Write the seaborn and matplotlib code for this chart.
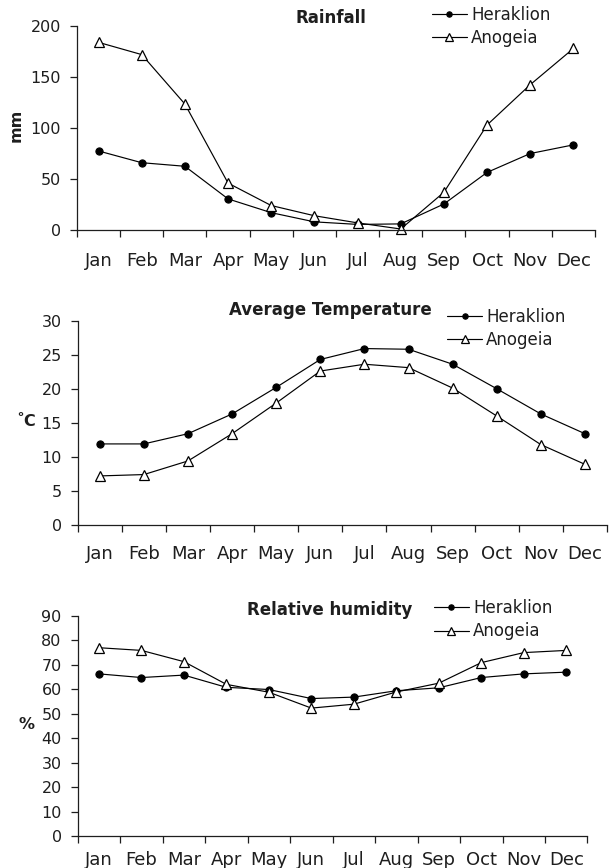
import numpy as np
import pandas as pd
import matplotlib
matplotlib.use("Agg")
import matplotlib.pyplot as plt
import seaborn as sns

months = ["Jan", "Feb", "Mar", "Apr", "May", "Jun", "Jul", "Aug", "Sep", "Oct", "Nov", "Dec"]
stations = ["Heraklion", "Anogeia"]

rain_heraklion = [77.5, 66, 62.5, 30.5, 17, 8, 5.5, 6, 25.5, 56.5, 75, 83.5]
rain_anogeia = [184, 172, 123.5, 46, 24, 14, 7, 1, 37, 103, 142.5, 178]

temp_heraklion = [11.9, 11.9, 13.4, 16.3, 20.2, 24.3, 25.9, 25.8, 23.6, 20.0, 16.3, 13.4]
temp_anogeia = [7.2, 7.4, 9.4, 13.4, 17.9, 22.6, 23.6, 23.1, 20.1, 16.0, 11.8, 8.9]

hum_heraklion = [66.3, 64.8, 65.8, 60.8, 59.9, 56.2, 56.8, 59.4, 60.6, 64.8, 66.3, 67.0]
hum_anogeia = [77.0, 75.9, 71.3, 62.0, 58.8, 52.3, 53.9, 58.9, 62.5, 70.9, 75.0, 75.9]

sns.set_theme(style="ticks")
plt.rcParams["font.family"] = ["DejaVu Sans"]
plt.rcParams["axes.linewidth"] = 0.9

INK = "#1e1e1e"


def frame(h, a):
    rows = []
    for m, v in zip(months, h):
        rows.append({"month": m, "value": v, "station": stations[0]})
    for m, v in zip(months, a):
        rows.append({"month": m, "value": v, "station": stations[1]})
    return pd.DataFrame(rows)


fig = plt.figure(figsize=(6.10, 8.68), dpi=100)

panels = [
    dict(rect=[0.1262, 0.7350, 0.8492, 0.2350], h=rain_heraklion, a=rain_anogeia,
         ymax=200, step=50, title="Rainfall", tpos=(0.5418, 0.979),
         leg=(0.708, 0.9931), ylabel="mm", ylpos=(0.026, 0.856), rot=90, xpad=15.5),
    dict(rect=[0.1274, 0.3952, 0.8677, 0.2354], h=temp_heraklion, a=temp_anogeia,
         ymax=30, step=5, title="Average Temperature", tpos=(0.541, 0.6429),
         leg=(0.733, 0.6452), ylabel="˚C", ylpos=(0.043, 0.514), rot=0, xpad=14.5),
    dict(rect=[0.1274, 0.0369, 0.8357, 0.2535], h=hum_heraklion, a=hum_anogeia,
         ymax=90, step=10, title="Relative humidity", tpos=(0.540, 0.2972),
         leg=(0.711, 0.3099), ylabel="%", ylpos=(0.044, 0.165), rot=0, xpad=11.0),
]

for p in panels:
    ax = fig.add_axes(p["rect"])
    df = frame(p["h"], p["a"])
    sns.lineplot(data=df, x="month", y="value", style="station",
                 markers={"Heraklion": "o", "Anogeia": "^"}, dashes=False,
                 color="black", linewidth=0.85, ax=ax, sort=False,
                 markersize=5.2, legend=False)
    # solid circles, open triangles
    lines = ax.get_lines()
    lines[0].set_markerfacecolor("black")
    lines[0].set_markeredgecolor("black")
    lines[1].set_markerfacecolor("white")
    lines[1].set_markeredgecolor("black")
    lines[1].set_markersize(6.8)
    lines[1].set_markeredgewidth(0.9)

    ax.set_xlim(-0.5, 11.5)
    ax.set_ylim(0, p["ymax"])
    ax.set_yticks(np.arange(0, p["ymax"] + 1, p["step"]))
    ax.set_xticks(range(12))
    ax.set_xticklabels(months)
    ax.set_xticks(np.arange(-0.5, 12, 1), minor=True)
    ax.tick_params(axis="x", which="major", length=0, pad=p["xpad"], labelsize=13,
                   labelcolor=INK)
    ax.tick_params(axis="x", which="minor", length=5, width=0.9, direction="out", color=INK)
    ax.tick_params(axis="y", which="major", length=5, width=0.9, direction="out",
                   labelsize=11.5, pad=6.5, color=INK, labelcolor=INK)
    ax.set_xlabel("")
    ax.set_ylabel("")
    for s in ["top", "right"]:
        ax.spines[s].set_visible(False)
    for s in ["left", "bottom"]:
        ax.spines[s].set_color(INK)
    for ln in ax.get_lines():
        ln.set_clip_on(False)

    fig.text(p["tpos"][0], p["tpos"][1], p["title"], ha="center", va="center",
             fontsize=12, fontweight="bold", color=INK)
    fig.text(p["ylpos"][0], p["ylpos"][1], p["ylabel"], ha="center", va="center",
             fontsize=11.5, fontweight="bold", rotation=p["rot"], color=INK)

    leg = ax.legend(lines, stations, loc="upper left", bbox_to_anchor=p["leg"],
                    bbox_transform=fig.transFigure, frameon=False, fontsize=12,
                    handlelength=2.1, handletextpad=0.25, labelspacing=0.32,
                    borderpad=0, borderaxespad=0, numpoints=1, markerscale=0.75)
    for t in leg.get_texts():
        t.set_color(INK)

fig.savefig("out.png", dpi=100)
